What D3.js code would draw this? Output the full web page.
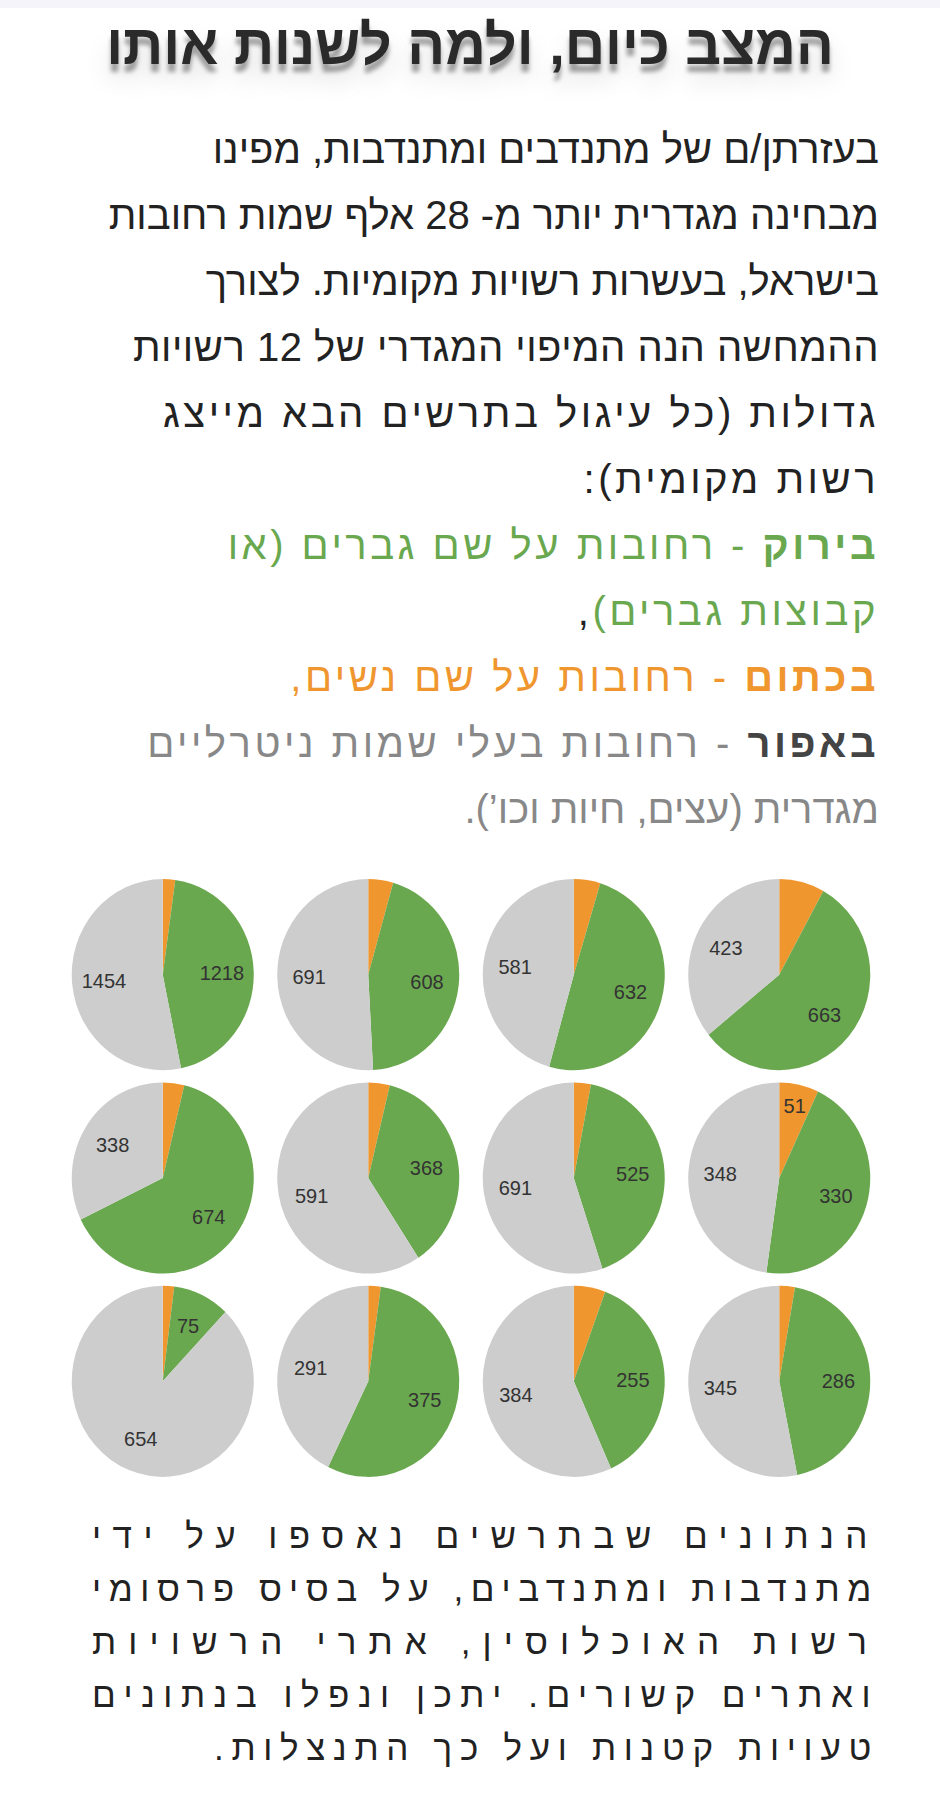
<!DOCTYPE html>
<html>
<head>
<meta charset="utf-8">
<title>המצב כיום</title>
<script src="https://cdn.jsdelivr.net/npm/d3@7"></script>
<style>
  html, body { margin: 0; padding: 0; background: #fff; }
  body { width: 940px; height: 1808px; position: relative; overflow: hidden; font-family: 'Liberation Sans', Arial, sans-serif; }
  .topbar { position: absolute; left: 0; top: 0; width: 940px; height: 8px; background: #f4f4fa; }
  .title { position: absolute; top: 12px; left: 0; width: 940px; text-align: center; direction: rtl;
    font-family: 'Liberation Sans Narrow', 'Liberation Sans', sans-serif; font-weight: bold; font-size: 56px; color: #2a2a2a;
    text-shadow: 0 8px 4px rgba(0,0,0,0.35), 0 16px 24px rgba(0,0,0,0.15); }
  .line { position: absolute; right: 61px; direction: rtl; white-space: nowrap; font-size: 40px; color: #222; }
  .green { color: #6aa84f; }
  .orange { color: #f0962e; }
  .grey { color: #888; }
  b { font-weight: bold; }
  .foot { position: absolute; right: 61px; direction: rtl; font-size: 35px; color: #222; white-space: nowrap; }
  svg { position: absolute; left: 0; top: 0; }
</style>
</head>
<body>
<div class="topbar"></div>
<div class="title">המצב כיום, ולמה לשנות אותו</div>
<div id="text"></div>
<svg id="chart" width="940" height="1808"></svg>
<script>
// paragraph lines (top)
var lines = [
  { y: 172, html: 'בעזרתן/ם של מתנדבים ומתנדבות, מפינו', ls: 0 },
  { y: 238, html: 'מבחינה מגדרית יותר מ- 28 אלף שמות רחובות', ls: 0 },
  { y: 304, html: 'בישראל, בעשרות רשויות מקומיות. לצורך', ls: 0 },
  { y: 370, html: 'ההמחשה הנה המיפוי המגדרי של 12 רשויות', ls: 0.5 },
  { y: 436, html: 'גדולות (כל עיגול בתרשים הבא מייצג', ls: 3.5 },
  { y: 502, html: 'רשות מקומית):', ls: 3.5 },
  { y: 568, html: '<span class="green"><b>בירוק</b> - רחובות על שם גברים (או</span>', ls: 3.5 },
  { y: 634, html: '<span class="green">קבוצות גברים)</span>,', ls: 3.5 },
  { y: 700, html: '<span class="orange"><b>בכתום</b> - רחובות על שם נשים,</span>', ls: 3.5 },
  { y: 766, html: '<span class="grey"><b style="color:#444">באפור</b> - רחובות בעלי שמות ניטרליים</span>', ls: 3.5 },
  { y: 832, html: '<span class="grey">מגדרית (עצים, חיות וכו’).</span>', ls: 0 }
];
d3.select('#text').selectAll('div.line').data(lines).enter().append('div')
  .attr('class', 'line')
  .style('top', function (d) { return (d.y - 45) + 'px'; })
  .style('letter-spacing', function (d) { return d.ls + 'px'; })
  .html(function (d) { return d.html; });

var foot = [
  'הנתונים שבתרשים נאספו על ידי',
  'מתנדבות ומתנדבים, על בסיס פרסומי',
  'רשות האוכלוסין, אתרי הרשויות',
  'ואתרים קשורים. יתכן ונפלו בנתונים',
  'טעויות קטנות ועל כך התנצלות.'
];
d3.select('#text').selectAll('div.foot').data(foot).enter().append('div')
  .attr('class', 'foot')
  .style('top', function (d, i) { return (1555 - 39 + i * 53) + 'px'; })
  .text(function (d) { return d; })
  .each(function (d, i) {
    // spread letters so each line fills the column, like the reference
    var target = i === 4 ? 665 : 787;
    var w = this.getBoundingClientRect().width;
    this.style.letterSpacing = ((target - w) / d.length) + 'px';
  });

// pie data: women (orange), men (green), neutral (grey)
var pies = [
  { women: 60, men: 1218, neutral: 1454 },
  { women: 60, men: 608, neutral: 691 },
  { women: 60, men: 632, neutral: 581 },
  { women: 95, men: 663, neutral: 423 },
  { women: 40, men: 674, neutral: 338 },
  { women: 38, men: 368, neutral: 591 },
  { women: 38, men: 525, neutral: 691 },
  { women: 51, men: 330, neutral: 348 },
  { women: 15, men: 75, neutral: 654 },
  { women: 15, men: 375, neutral: 291 },
  { women: 38, men: 255, neutral: 384 },
  { women: 18, men: 286, neutral: 345 }
];
var keys = ['women', 'men', 'neutral'];
var colour = d3.scaleOrdinal().domain(keys).range(['#f0962e', '#6aa84f', '#cdcdcd']);
var col = d3.scaleBand().domain(d3.range(4)).range([60, 882]);
var row = d3.scaleBand().domain(d3.range(3)).range([873, 1483]);

var r = 91;
var pie = d3.pie().sort(null).value(function (d) { return d.value; });
var arc = d3.arc().innerRadius(0).outerRadius(r);
var labelArc = d3.arc().innerRadius(r * 0.65).outerRadius(r * 0.65);

var svg = d3.select('#chart');
var g = svg.selectAll('g.pie').data(pies).enter().append('g')
  .attr('class', 'pie')
  .attr('transform', function (d, i) {
    var x = col(i % 4) + col.bandwidth() / 2;
    var y = row(Math.floor(i / 4)) + row.bandwidth() / 2;
    return 'translate(' + x + ',' + y + ') scale(1,1.05)';
  });

g.each(function (d) {
  var slices = pie(keys.map(function (k) { return { key: k, value: d[k] }; }));
  var sel = d3.select(this);
  sel.selectAll('path').data(slices).enter().append('path')
    .attr('d', arc)
    .attr('fill', function (s) { return colour(s.data.key); });
  sel.selectAll('text').data(slices.filter(function (s) { return s.data.key !== 'women' || s.data.value === 51; }))
    .enter().append('text')
    .attr('transform', function (s) {
      var c = s.data.key === 'women' ? d3.arc().innerRadius(r * 0.78).outerRadius(r * 0.78).centroid(s) : labelArc.centroid(s);
      return 'translate(' + c + ')';
    })
    .attr('text-anchor', 'middle')
    .attr('dy', '0.35em')
    .attr('font-family', 'Liberation Sans Narrow, Liberation Sans, sans-serif')
    .attr('font-size', 20)
    .attr('fill', '#333')
    .text(function (s) { return s.data.value; });
});
</script>
</body>
</html>
